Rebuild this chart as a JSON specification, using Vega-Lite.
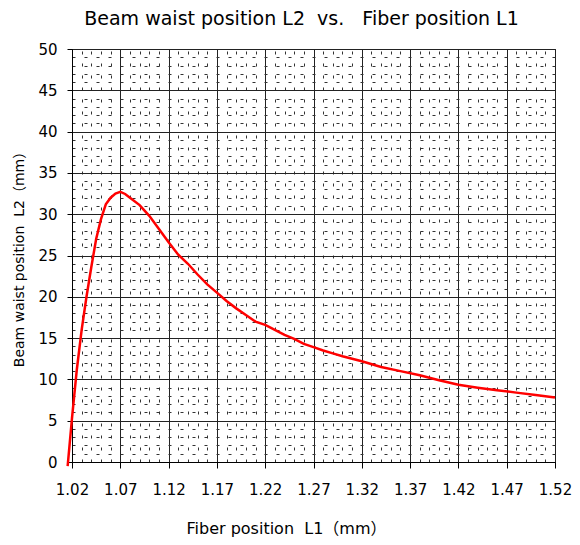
{
  "$schema": "https://vega.github.io/schema/vega-lite/v6.json",
  "width": 483,
  "height": 413,
  "autosize": "none",
  "padding": {"left": 72, "top": 49, "right": 25, "bottom": 83},
  "background": "white",
  "config": {
    "view": {"stroke": "#000", "strokeWidth": 1},
    "font": "DejaVu Sans, Noto Sans CJK JP"
  },
  "title": {
    "text": "Beam waist position L2\u00a0\u00a0vs.\u00a0\u00a0\u00a0Fiber position L1",
    "fontSize": 19,
    "fontWeight": "normal",
    "font": "DejaVu Sans, Noto Sans CJK JP",
    "color": "#000",
    "anchor": "middle",
    "dx": -12,
    "offset": 13
  },
  "data": {
    "values": [
      {"L1": 1.0155, "L2": -0.5},
      {"L1": 1.02, "L2": 5.3},
      {"L1": 1.025, "L2": 11.2},
      {"L1": 1.03, "L2": 16.0},
      {"L1": 1.035, "L2": 20.0},
      {"L1": 1.04, "L2": 23.6},
      {"L1": 1.045, "L2": 27.0},
      {"L1": 1.05, "L2": 29.4},
      {"L1": 1.055, "L2": 31.2},
      {"L1": 1.06, "L2": 32.0},
      {"L1": 1.065, "L2": 32.5},
      {"L1": 1.07, "L2": 32.7},
      {"L1": 1.075, "L2": 32.45},
      {"L1": 1.08, "L2": 32.0},
      {"L1": 1.09, "L2": 31.1},
      {"L1": 1.1, "L2": 29.8},
      {"L1": 1.11, "L2": 28.2},
      {"L1": 1.12, "L2": 26.6},
      {"L1": 1.13, "L2": 25.1},
      {"L1": 1.14, "L2": 24.0},
      {"L1": 1.15, "L2": 22.7},
      {"L1": 1.16, "L2": 21.5},
      {"L1": 1.17, "L2": 20.5},
      {"L1": 1.18, "L2": 19.5},
      {"L1": 1.19, "L2": 18.6},
      {"L1": 1.2, "L2": 17.8},
      {"L1": 1.21, "L2": 17.0},
      {"L1": 1.22, "L2": 16.6},
      {"L1": 1.23, "L2": 16.0},
      {"L1": 1.24, "L2": 15.4},
      {"L1": 1.25, "L2": 14.9},
      {"L1": 1.26, "L2": 14.3},
      {"L1": 1.27, "L2": 13.9},
      {"L1": 1.28, "L2": 13.5},
      {"L1": 1.29, "L2": 13.15},
      {"L1": 1.3, "L2": 12.8},
      {"L1": 1.32, "L2": 12.2},
      {"L1": 1.34, "L2": 11.5},
      {"L1": 1.36, "L2": 11.0},
      {"L1": 1.38, "L2": 10.5},
      {"L1": 1.4, "L2": 9.9},
      {"L1": 1.42, "L2": 9.35},
      {"L1": 1.44, "L2": 9.0},
      {"L1": 1.46, "L2": 8.7},
      {"L1": 1.48, "L2": 8.4},
      {"L1": 1.5, "L2": 8.1},
      {"L1": 1.52, "L2": 7.8}
    ]
  },
  "layer": [
    {
      "mark": {"type": "line", "opacity": 0},
      "encoding": {
        "x": {
          "field": "L1", "type": "quantitative",
          "scale": {"domain": [1.02, 1.52], "nice": false, "zero": false},
          "axis": {
            "orient": "top", "title": null, "labels": false, "ticks": false, "domain": false,
            "grid": true, "gridColor": "#333", "gridDash": [3, 9], "gridWidth": 1,
            "values": [1.03,1.04,1.05,1.06,1.08,1.09,1.10,1.11,1.13,1.14,1.15,1.16,1.18,1.19,1.20,1.21,1.23,1.24,1.25,1.26,1.28,1.29,1.30,1.31,1.33,1.34,1.35,1.36,1.38,1.39,1.40,1.41,1.43,1.44,1.45,1.46,1.48,1.49,1.50,1.51]
          }
        },
        "y": {
          "field": "L2", "type": "quantitative",
          "scale": {"domain": [0, 50], "nice": false},
          "axis": {
            "orient": "right", "title": null, "labels": false, "ticks": false, "domain": false,
            "grid": true, "gridColor": "#333", "gridDash": [3, 9], "gridWidth": 1,
            "values": [1,2,3,4,6,7,8,9,11,12,13,14,16,17,18,19,21,22,23,24,26,27,28,29,31,32,33,34,36,37,38,39,41,42,43,44,46,47,48,49]
          }
        }
      }
    },
    {
      "mark": {"type": "line", "color": "#ff0000", "strokeWidth": 2.5, "clip": false},
      "encoding": {
        "x": {
          "field": "L1", "type": "quantitative",
          "scale": {"domain": [1.02, 1.52], "nice": false, "zero": false},
          "axis": {
            "orient": "bottom",
            "title": "Fiber position\u00a0\u00a0L1（mm）",
            "titleFontSize": 16, "titleFontWeight": "normal", "titleColor": "#000",
            "titlePadding": 23, "titleX": 214,
            "values": [1.02,1.07,1.12,1.17,1.22,1.27,1.32,1.37,1.42,1.47,1.52],
            "format": ".2f",
            "labelFontSize": 15, "labelColor": "#000", "labelPadding": 14,
            "labelFlush": false, "labelOverlap": false,
            "tickSize": 6, "tickColor": "#000", "domainColor": "#000",
            "grid": true, "gridColor": "#222", "gridWidth": 1
          }
        },
        "y": {
          "field": "L2", "type": "quantitative",
          "scale": {"domain": [0, 50], "nice": false},
          "axis": {
            "orient": "left",
            "title": "Beam waist position\u00a0\u00a0L2（mm）",
            "titleFontSize": 14, "titleFontWeight": "normal", "titleColor": "#000",
            "titlePadding": 11,
            "values": [0,5,10,15,20,25,30,35,40,45,50],
            "labelFontSize": 15, "labelColor": "#000", "labelPadding": 10,
            "labelFlush": false, "labelOverlap": false,
            "tickSize": 5, "tickColor": "#000", "domainColor": "#000",
            "grid": true, "gridColor": "#222", "gridWidth": 1
          }
        }
      }
    }
  ],
  "resolve": {"axis": {"x": "independent", "y": "independent"}}
}
